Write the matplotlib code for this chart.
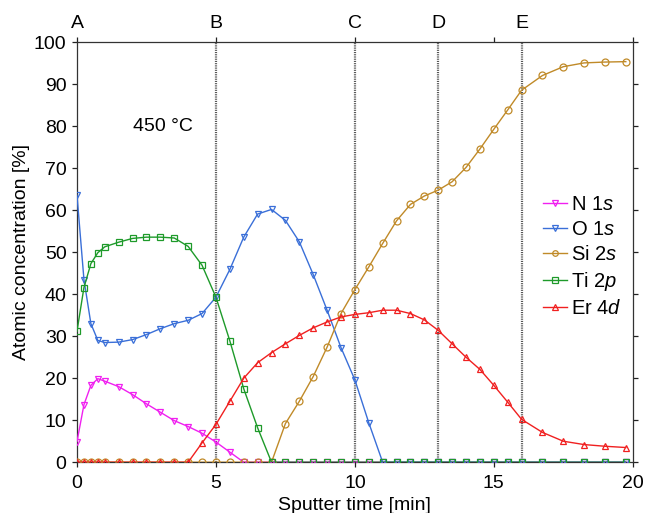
import matplotlib
matplotlib.use("Agg")
import matplotlib.pyplot as plt
import matplotlib.transforms as mtransforms

plt.rcParams['font.family'] = ['Liberation Sans', 'DejaVu Sans']
plt.rcParams['mathtext.fontset'] = 'custom'
plt.rcParams['mathtext.rm'] = 'Liberation Sans'
plt.rcParams['mathtext.it'] = 'Liberation Sans:italic'

# Sputter time [min]
time = [0, 0.25, 0.5, 0.75, 1, 1.5, 2, 2.5, 3, 3.5, 4, 4.5, 5, 5.5, 6, 6.5, 7,
        7.5, 8, 8.5, 9, 9.5, 10, 10.5, 11, 11.5, 12, 12.5, 13, 13.5, 14, 14.5,
        15, 15.5, 16, 16.75, 17.5, 18.25, 19, 19.75]

n1s = [4.9, 13.7, 18.3, 19.9, 19.3, 18.0, 16.1, 13.9, 11.9, 9.9, 8.5, 6.9, 4.8,
       2.4, 0, 0, 0, 0, 0, 0, 0, 0, 0, 0, 0, 0, 0, 0, 0, 0, 0, 0, 0, 0, 0, 0,
       0, 0, 0, 0]
o1s = [63.6, 43.5, 33.0, 29.0, 28.5, 28.6, 29.2, 30.4, 31.8, 33.0, 33.8, 35.4,
       39.3, 45.9, 53.6, 59.1, 60.2, 57.6, 52.5, 44.7, 36.2, 27.3, 19.6, 9.4,
       0, 0, 0, 0, 0, 0, 0, 0, 0, 0, 0, 0, 0, 0, 0, 0]
si2s = [0, 0, 0, 0, 0, 0, 0, 0, 0, 0, 0, 0, 0, 0, 0, 0, 0,
        9.2, 14.5, 20.4, 27.4, 35.4, 41.1, 46.5, 52.1, 57.5, 61.4, 63.4, 64.8,
        66.8, 70.2, 74.6, 79.3, 83.9, 88.6, 92.1, 94.2, 95.1, 95.3, 95.4]
ti2p = [31.2, 41.6, 47.3, 49.9, 51.3, 52.4, 53.3, 53.6, 53.6, 53.4, 51.4, 46.9,
        39.3, 28.9, 17.5, 8.2, 0, 0, 0, 0, 0, 0, 0, 0, 0, 0, 0, 0, 0, 0, 0, 0,
        0, 0, 0, 0, 0, 0, 0, 0]
er4d = [0, 0, 0, 0, 0, 0, 0, 0, 0, 0, 0,
        4.6, 9.0, 14.5, 20.0, 23.7, 26.1, 28.2, 30.2, 32.0, 33.4, 34.6, 35.2,
        35.6, 36.2, 36.2, 35.4, 33.9, 31.4, 28.2, 25.0, 22.1, 18.3, 14.3, 10.2,
        7.1, 5.0, 4.2, 3.8, 3.5]

series_labels = ['N 1$\\it{s}$', 'O 1$\\it{s}$', 'Si 2$\\it{s}$', 'Ti 2$\\it{p}$', 'Er 4$\\it{d}$']
series_colors = ['#f020f0', '#3a6fd8', '#c08a28', '#1e9a2a', '#f02020']
series_markers = ['v', 'v', 'o', 's', '^']

region_pos = [0, 5, 10, 13, 16]
region_labels = ['A', 'B', 'C', 'D', 'E']
boundaries = [5, 10, 13, 16]

fig = plt.figure(figsize=(6.47, 5.13), dpi=100)
ax = fig.add_axes([0.119, 0.099, 0.859, 0.8185])

for x in boundaries:
    ax.axvline(x, color='#555555', lw=1.6, ls=(0, (0.5, 0.5)), zorder=1)

for y, lab, c, m in zip([n1s, o1s, si2s, ti2p, er4d], series_labels,
                        series_colors, series_markers):
    ax.plot(time, y, color=c, lw=1.0, marker=m, ms=5, mfc='none',
            mec=c, mew=0.9, label=lab, zorder=3)

ax.set_xlim(0, 20)
ax.set_ylim(0, 100)
ax.set_xticks([0, 5, 10, 15, 20])
ax.set_yticks(range(0, 101, 10))
ax.tick_params(direction='out', length=3.5, width=0.9, labelsize=14,
               top=True, right=True, labeltop=False, labelright=False,
               pad=4, colors='#222222', labelcolor='black')
ax.tick_params(axis='x', pad=6)
for s in ax.spines.values():
    s.set_color('#333333')
    s.set_linewidth(0.9)

trans = mtransforms.blended_transform_factory(ax.transData, ax.transAxes)
for x, lab in zip(region_pos, region_labels):
    ax.text(x, 1.025, lab, transform=trans, ha='center', va='bottom', fontsize=14)

ax.text(2.0, 80, '450 °C', fontsize=14, va='center', ha='left')

ax.set_xlabel('Sputter time [min]', fontsize=14, labelpad=3)
ax.set_ylabel('Atomic concentration [%]', fontsize=14, labelpad=3)

leg = ax.legend(loc='upper right', bbox_to_anchor=(0.995, 0.655), frameon=False,
                fontsize=14.5, handlelength=1.2, handletextpad=0.2,
                labelspacing=0.3, borderaxespad=0, markerscale=0.8)

fig.savefig('out.png', dpi=100)
